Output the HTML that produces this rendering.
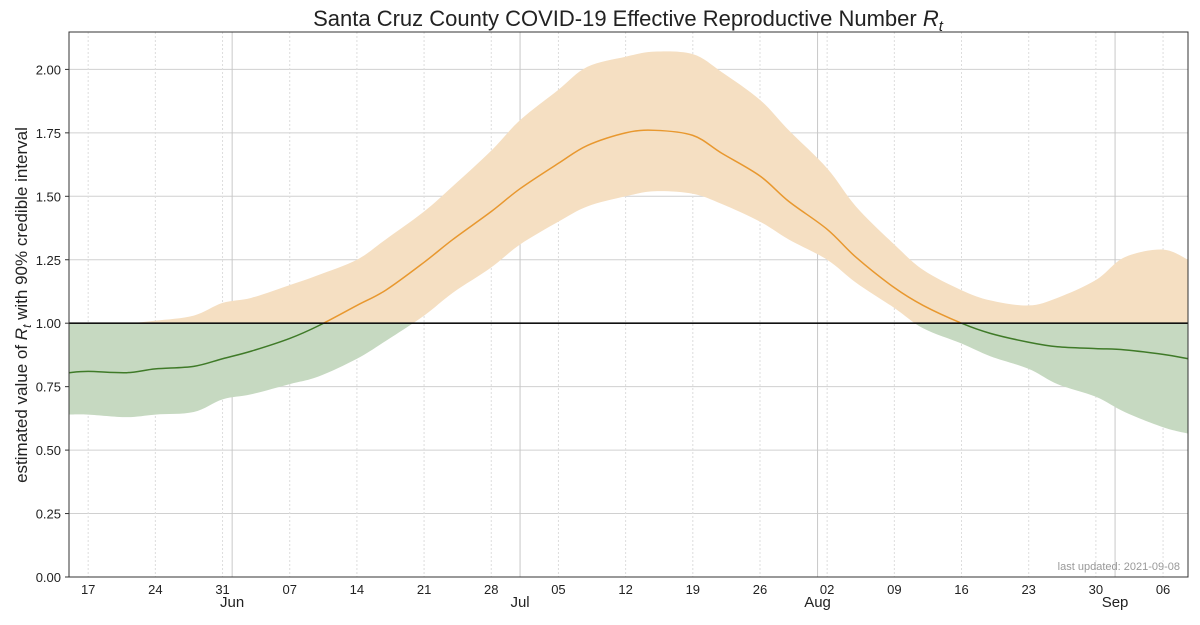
<!DOCTYPE html>
<html><head><meta charset="utf-8"><style>
body{margin:0;background:#fff;}
svg text{font-family:"Liberation Sans","DejaVu Sans",sans-serif;}
</style></head><body>
<svg id="chart" width="1200" height="620" xmlns="http://www.w3.org/2000/svg">
<text x="628" y="26" font-size="22" text-anchor="middle" fill="#222">Santa Cruz County COVID-19 Effective Reproductive Number <tspan font-style="italic">R</tspan><tspan font-style="italic" font-size="15" dy="5">t</tspan></text>
<text transform="translate(27,305) rotate(-90)" font-size="17" text-anchor="middle" fill="#222">estimated value of <tspan font-style="italic">R</tspan><tspan font-style="italic" font-size="12" dy="4">t</tspan><tspan dy="-4"> with 90% credible interval</tspan></text>
<g id="grid"></g>
<g id="marks"></g>
<g id="axes"></g>
<text x="1180" y="570" font-size="11" text-anchor="end" fill="#999">last updated: 2021-09-08</text>
</svg>
<script>
// days since 2021-05-15
const days   = [0,2,6,9,13,16,19,23,26,30,33,37,40,44,47,51,54,58,61,65,68,72,75,79,82,86,89,93,96,100,103,107,110,114,116.6];
const median = [0.805,0.81,0.805,0.82,0.83,0.86,0.89,0.94,0.99,1.07,1.13,1.24,1.33,1.44,1.53,1.63,1.70,1.75,1.76,1.74,1.67,1.58,1.48,1.37,1.26,1.14,1.07,1.0,0.96,0.925,0.907,0.90,0.895,0.877,0.86];
const upper  = [1.0,1.0,1.0,1.01,1.03,1.08,1.10,1.15,1.19,1.25,1.33,1.44,1.54,1.68,1.80,1.92,2.01,2.05,2.07,2.06,1.99,1.88,1.76,1.61,1.46,1.31,1.21,1.13,1.09,1.07,1.10,1.17,1.26,1.29,1.25];
const lower  = [0.64,0.64,0.63,0.64,0.65,0.70,0.72,0.76,0.79,0.86,0.93,1.03,1.12,1.22,1.31,1.40,1.46,1.50,1.52,1.51,1.47,1.40,1.33,1.25,1.16,1.06,0.98,0.92,0.87,0.82,0.76,0.71,0.65,0.59,0.565];
const yTicks = [0,0.25,0.5,0.75,1.0,1.25,1.5,1.75,2.0];
const weekDays = [2,9,16,23,30,37,44,51,58,65,72,79,86,93,100,107,114];
const weekLabels = ["17","24","31","07","14","21","28","05","12","19","26","02","09","16","23","30","06"];
const monthDays = [17,47,78,109];
const monthLabels = ["Jun","Jul","Aug","Sep"];

const X0=69,X1=1188,Y0=577,Y1=32;
const dMax=116.6;
const xs=d=>X0+d/dMax*(X1-X0);
const ys=v=>Y0-v*253.8;
const NS="http://www.w3.org/2000/svg";
function mk(tag,attrs,parent){const e=document.createElementNS(NS,tag);for(const k in attrs)e.setAttribute(k,attrs[k]);parent.appendChild(e);return e;}
function curve(px,py){let d="";for(let i=0;i<px.length;i++){if(i==0){d+=`M${px[0]},${py[0]}`;continue;}
const p0=i>1?i-2:i-1,p1=i-1,p2=i,p3=i<px.length-1?i+1:i;
const c1x=px[p1]+(px[p2]-px[p0])/6,c1y=py[p1]+(py[p2]-py[p0])/6,c2x=px[p2]-(px[p3]-px[p1])/6,c2y=py[p2]-(py[p3]-py[p1])/6;
d+=`C${c1x},${c1y} ${c2x},${c2y} ${px[p2]},${py[p2]}`;}return d;}
const grid=document.getElementById('grid'),marks=document.getElementById('marks'),axes=document.getElementById('axes');
const svg=document.getElementById('chart');
const defs=mk('defs',{},svg);
const ca=mk('clipPath',{id:'above'},defs);mk('rect',{x:X0,y:Y1,width:X1-X0,height:ys(1)-Y1},ca);
const cb=mk('clipPath',{id:'below'},defs);mk('rect',{x:X0,y:ys(1),width:X1-X0,height:Y0-ys(1)},cb);

yTicks.forEach(v=>{const y=ys(v);
const g=mk('line',{x1:X0,x2:X1,y1:y,y2:y,stroke:'#d0d0d0','stroke-width':1},grid);

const t=mk('text',{x:X0-8,y:y+5,'font-size':13,'text-anchor':'end',fill:'#222'},axes);t.textContent=v.toFixed(2);

mk('line',{x1:X0-4,x2:X0,y1:y,y2:y,stroke:'#333'},axes);});
weekDays.forEach((d,i)=>{const x=xs(d);
const g=mk('line',{x1:x,x2:x,y1:Y1,y2:Y0,stroke:'#ddd','stroke-dasharray':'2,2'},grid);

const t=mk('text',{x:x,y:Y0+17,'font-size':13,'text-anchor':'middle',fill:'#222'},axes);t.textContent=weekLabels[i];
});
monthDays.forEach((d,i)=>{const x=xs(d);
const g=mk('line',{x1:x,x2:x,y1:Y1,y2:Y0,stroke:'#c8c8c8'},grid);

const t=mk('text',{x:x,y:Y0+30,'font-size':15,'text-anchor':'middle',fill:'#222'},axes);t.textContent=monthLabels[i];
});

const px=days.map(xs);
const upY=upper.map(ys),loY=lower.map(ys),mY=median.map(ys);
const up=curve(px,upY);
const loRev=curve(px.slice().reverse(),loY.slice().reverse()).replace(/^M/,'L');
const band=up+loRev+'Z';
const b1=mk('path',{d:band,fill:'#f5dfc2','clip-path':'url(#above)'},marks);

const b2=mk('path',{d:band,fill:'#c6d9c1','clip-path':'url(#below)'},marks);

const mp=curve(px,mY);
const l1=mk('path',{d:mp,fill:'none',stroke:'#e8982f','stroke-width':1.5,'clip-path':'url(#above)'},marks);

const l2=mk('path',{d:mp,fill:'none',stroke:'#3f7a28','stroke-width':1.5,'clip-path':'url(#below)'},marks);

const ref=mk('line',{x1:X0,x2:X1,y1:ys(1),y2:ys(1),stroke:'#111','stroke-width':1.6},marks);

const fr=mk('rect',{x:X0,y:Y1,width:X1-X0,height:Y0-Y1,fill:'none',stroke:'#333','stroke-width':1},axes);

</script>
</body></html>
